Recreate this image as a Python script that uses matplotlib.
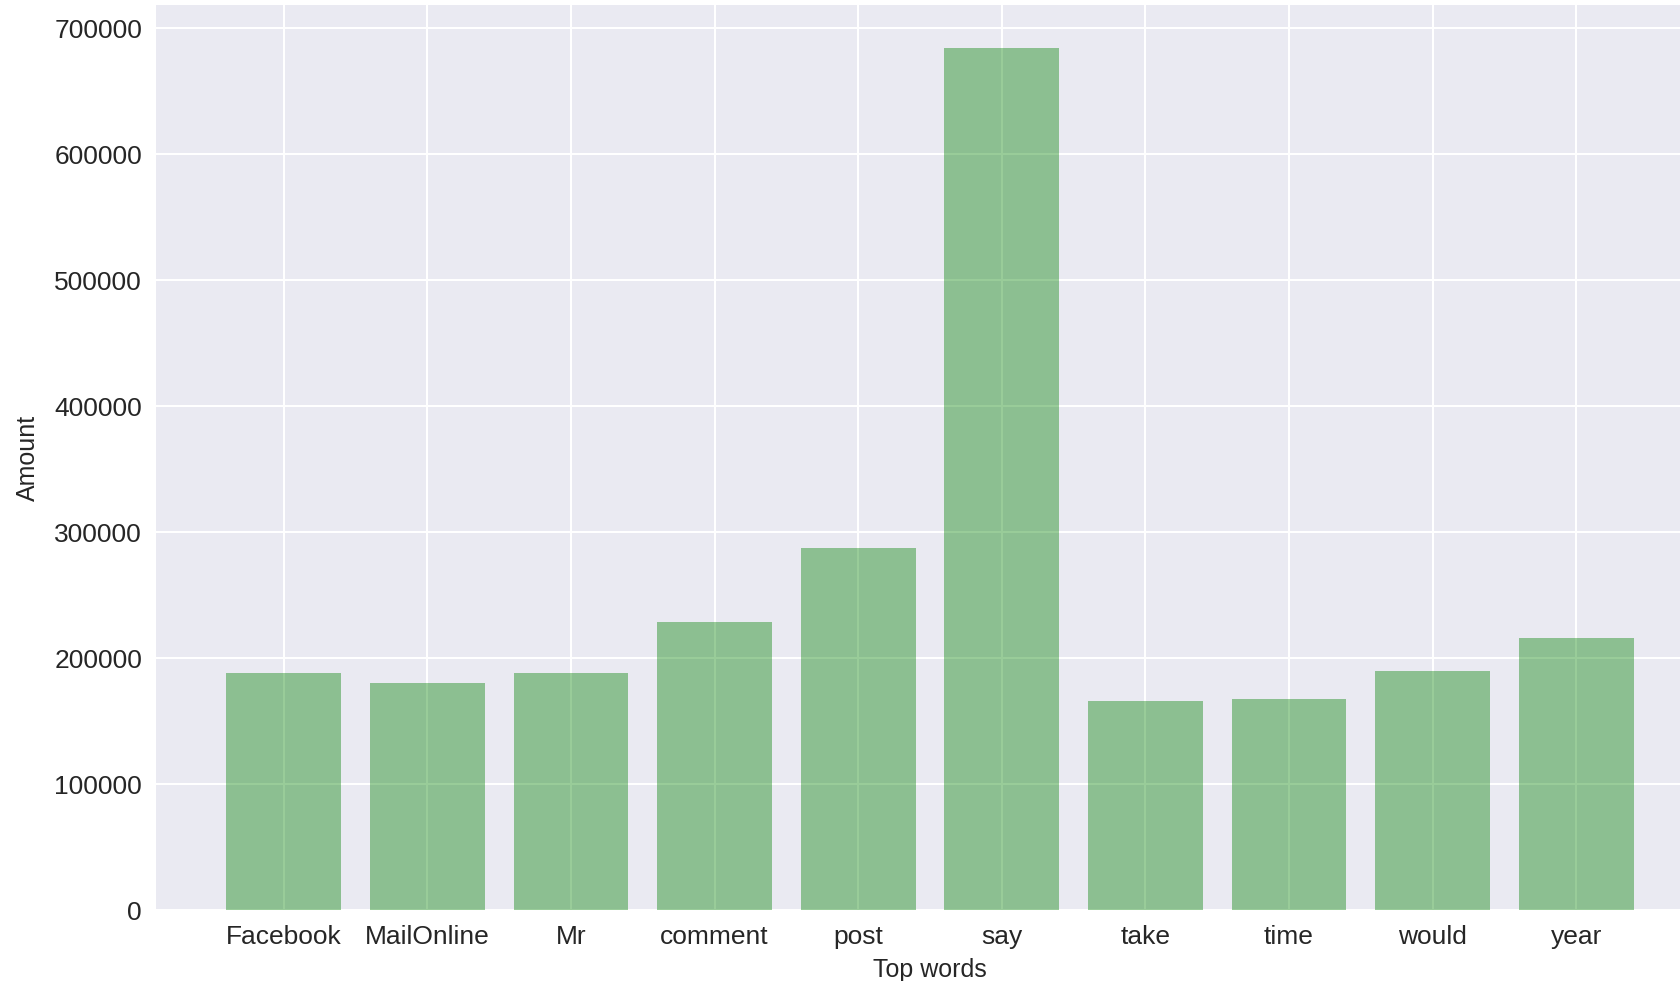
import matplotlib
matplotlib.use("Agg")
import matplotlib.pyplot as plt

words = ["Facebook", "MailOnline", "Mr", "comment", "post", "say", "take", "time", "would", "year"]
amounts = [188000, 180000, 188000, 228500, 287500, 684000, 166000, 167700, 189700, 216000]
yticks = [0, 100000, 200000, 300000, 400000, 500000, 600000, 700000]

plt.rcParams['font.family'] = ['Liberation Sans', 'DejaVu Sans']

fig = plt.figure(figsize=(16.8, 9.81), dpi=100)
ax = fig.add_axes([156 / 1680, 1 - 910 / 981, 1548 / 1680, 904.7 / 981])
ax.set_facecolor('#EAEAF2')
for s in ax.spines.values():
    s.set_visible(False)
ax.set_axisbelow(True)
ax.grid(True, color='white', linewidth=1.5)

x = list(range(len(words)))
ax.bar(x, amounts, width=0.8, color=(0, 0.5, 0), alpha=0.4, linewidth=0)
ax.set_xticks(x)
ax.set_xticklabels(words)
ax.set_yticks(yticks)
ax.set_yticklabels([str(v) for v in yticks])
ax.tick_params(axis='both', length=0, labelsize=19, labelcolor='#262626')
ax.tick_params(axis='y', pad=10)
ax.tick_params(axis='x', pad=11)
ax.set_xlabel("Top words", fontsize=18, color='#262626', labelpad=6)
ax.set_ylabel("Amount", fontsize=18, color='#262626', labelpad=10)

fig.savefig("out.png", dpi=100)
